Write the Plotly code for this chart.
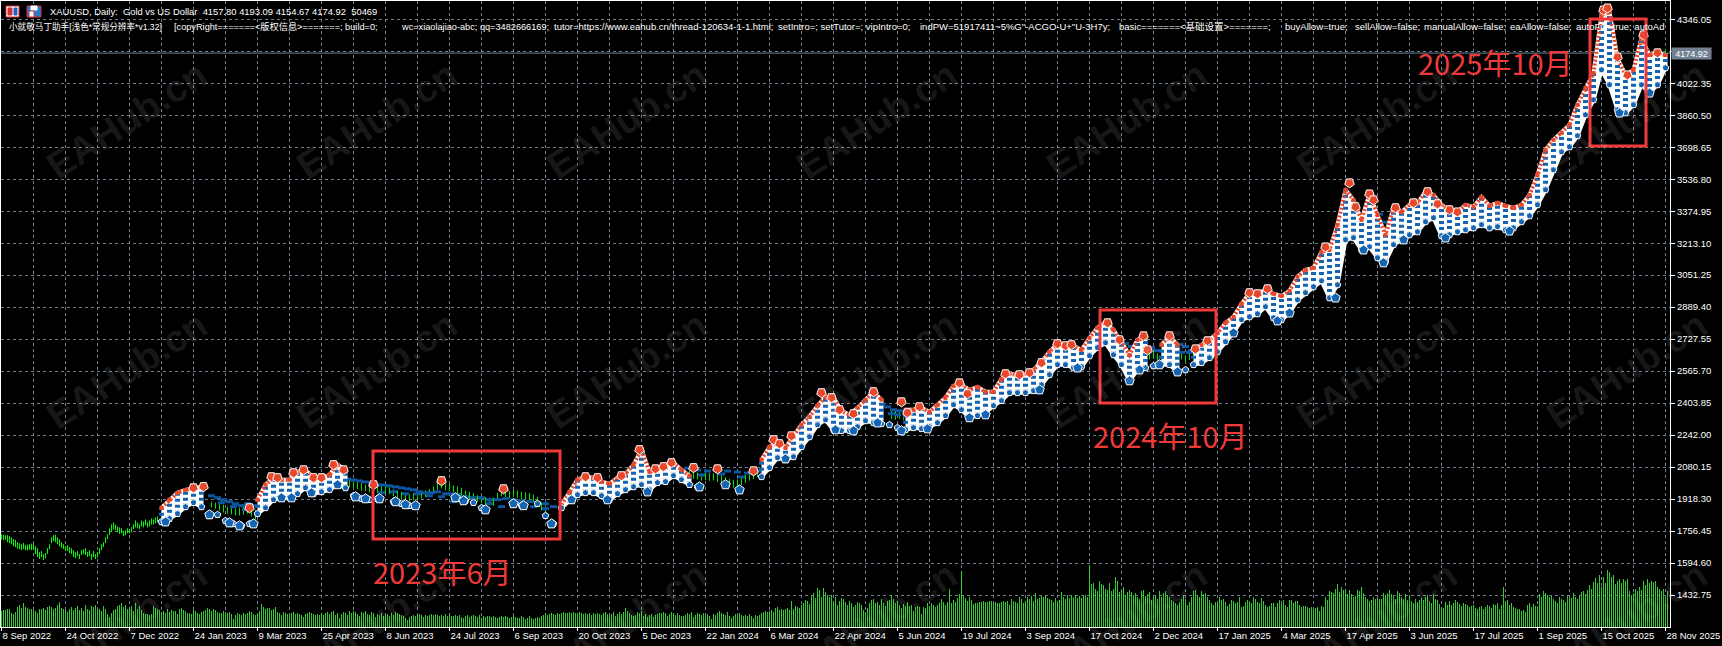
import plotly.graph_objects as go

W, H = 1722, 646
N = None

# price axis labels
price_ticks = [4346.05, 4184.20, 4022.35, 3860.50, 3698.65, 3536.80, 3374.95, 3213.10, 3051.25, 2889.40,
               2727.55, 2565.70, 2403.85, 2242.00, 2080.15, 1918.30, 1756.45, 1594.60, 1432.75]
last_price = 4174.92

# date labels, one every 32 daily bars
date_labels = ['8 Sep 2022', '24 Oct 2022', '7 Dec 2022', '24 Jan 2023', '9 Mar 2023', '25 Apr 2023', '8 Jun 2023',
               '24 Jul 2023', '6 Sep 2023', '20 Oct 2023', '5 Dec 2023', '22 Jan 2024', '6 Mar 2024', '22 Apr 2024',
               '5 Jun 2024', '19 Jul 2024', '3 Sep 2024', '17 Oct 2024', '2 Dec 2024', '17 Jan 2025', '4 Mar 2025',
               '17 Apr 2025', '3 Jun 2025', '17 Jul 2025', '1 Sep 2025', '15 Oct 2025', '28 Nov 2025']

# plain green bars before the EA starts trading
early_high = [1740, 1738, 1735, 1736, 1730, 1725, 1715, 1712, 1700, 1695, 1690, 1697, 1685, 1688, 1690, 1693, 1695, 1680,
              1670, 1650, 1655, 1640, 1645, 1670, 1690, 1725, 1735, 1738, 1725, 1715, 1700, 1690, 1680, 1685, 1675, 1670,
              1660, 1650, 1655, 1640, 1660, 1665, 1670, 1650, 1660, 1640, 1655, 1640, 1650, 1670, 1690, 1700, 1725, 1740,
              1770, 1790, 1800, 1790, 1780, 1775, 1770, 1755, 1760, 1770, 1765, 1775, 1790, 1810, 1800, 1790, 1810, 1805,
              1815, 1800, 1810, 1820, 1815, 1825, 1830]
early_low = [1715, 1710, 1712, 1700, 1695, 1690, 1680, 1675, 1668, 1665, 1660, 1665, 1660, 1658, 1662, 1660, 1662, 1640,
             1625, 1615, 1625, 1610, 1618, 1640, 1665, 1695, 1705, 1700, 1690, 1680, 1672, 1665, 1655, 1655, 1645, 1640,
             1625, 1620, 1630, 1615, 1635, 1640, 1635, 1625, 1630, 1610, 1625, 1615, 1622, 1640, 1660, 1675, 1695, 1715,
             1735, 1755, 1765, 1760, 1750, 1742, 1745, 1730, 1735, 1745, 1745, 1750, 1765, 1775, 1770, 1765, 1780, 1775,
             1785, 1775, 1780, 1790, 1790, 1795, 1800]

# green bars that show between the trade marks
side_bars = (list(range(105, 129, 2)) + list(range(172, 274, 2)) + list(range(338, 380, 2))
             + list(range(445, 453, 2)) + list(range(572, 610, 2)) + [694, 696, 832])
side_high = [1905, 1900, 1895, 1890, 1880, 1875, 1870, 1875, 1880, 1885, 1870, 1865,
             2020, 2015, 2005, 2003, 2000, 1992, 1990, 1990, 1985, 1985, 1983, 1978, 1968, 1962, 1955, 1948, 1942, 1948,
             1955, 1955, 1962, 1970, 1982, 2005, 2008, 1998, 1995, 1988, 1982, 1975, 1962, 1955, 1948, 1938, 1935, 1928,
             1925, 1925, 1950, 1968, 1962, 1960, 1965, 1962, 1955, 1952, 1950, 1942, 1930, 1900, 1870,
             2070, 2063, 2060, 2063, 2060, 2052, 2050, 2052, 2050, 2048, 2045, 2038, 2030, 2020, 2015, 2018, 2030, 2040,
             2050, 2058, 2070,
             2370, 2365, 2360, 2350,
             2670, 2660, 2665, 2655, 2660, 2670, 2658, 2650, 2665, 2660, 2645, 2655, 2668, 2650, 2660, 2670, 2655, 2660, 2665,
             3244, 3240, 4193]
side_low = [1875, 1870, 1860, 1850, 1845, 1840, 1835, 1835, 1840, 1845, 1830, 1815,
            1985, 1978, 1975, 1968, 1960, 1958, 1952, 1955, 1950, 1945, 1948, 1942, 1932, 1925, 1918, 1910, 1908, 1912,
            1918, 1920, 1928, 1932, 1948, 1965, 1972, 1962, 1958, 1952, 1948, 1935, 1928, 1918, 1912, 1902, 1898, 1888,
            1888, 1885, 1912, 1932, 1928, 1922, 1928, 1925, 1918, 1915, 1912, 1905, 1890, 1860, 1832,
            2030, 2025, 2022, 2025, 2020, 2018, 2012, 2015, 2010, 2012, 2005, 2000, 1990, 1982, 1975, 1982, 1990, 2000,
            2012, 2020, 2030,
            2325, 2320, 2325, 2318,
            2630, 2625, 2628, 2620, 2630, 2635, 2625, 2618, 2630, 2625, 2610, 2622, 2630, 2618, 2625, 2635, 2620, 2628, 2630,
            3204, 3200, 4154]

# upper and lower edge of the trade marks, one reading every 4 bars from bar 80
band_bars = list(range(80, 834, 4))
band_top = [1874, 1915, 1950, 1965, 1975, 1981, N, N, N, N, N, N, 1915, 1991, 2026, 2016, 2016, 2056, 2066, 2026, 2026, 2041,
            2092, 2066, N, N, N, N, N, N, N, N, N, N, N, N, N, N, N, N, N, N, N, N, N, N, N, N, N, N, 1889, 1955, 2016, 2031,
            2026, 2006, 1996, 2026, 2046, 2092, 2168, 2056, 2071, 2082, 2102, 2066, 2036, N, N, N, N, N, N, N, N,
            2117, 2183, 2203, 2178, 2238, 2294, 2335, 2390, 2436, 2431, 2365, 2345, 2380, 2421, 2461, 2421, N, N, 2370, 2370,
            2380, 2360, 2395, 2431, 2491, 2496, 2471, 2486, 2461, 2461, 2527, 2552, 2547, 2552, 2572, 2613, 2663, 2704, 2694,
            2694, 2673, 2734, 2785, 2815, 2775, 2714, 2648, 2724, 2734, N, 2699, 2744, 2699, N, 2673, 2699, 2724, 2759, 2810,
            2840, 2906, 2962, 2957, 2977, 2957, 2946, 2972, 3043, 3078, 3088, 3169, 3179, 3306, 3483, 3432, 3331, 3462, 3356,
            3255, 3392, 3371, 3407, 3417, 3473, 3457, 3407, 3382, 3371, 3407, 3397, 3447, 3402, 3417, 3402, 3392, 3407, 3457,
            3559, 3685, 3736, 3771, 3812, 3913, 3999, 4074, 4368, 4383, 4150, 4064, 4090, 4251, 4165, 4176, 4165]
band_bot = [1803, 1819, 1844, 1879, 1900, 1879, 1834, 1839, 1808, 1793, 1783, 1793, 1844, 1874, 1915, 1925, 1925, 1945, 1975,
            1945, 1955, 1965, 1991, 1975, 1935, 1920, 1915, 1920, N, 1905, 1895, 1885, N, N, N, N, N, 1920, 1910, 1900, 1874,
            N, N, N, 1895, 1885, N, 1895, 1834, 1793, 1874, 1910, 1940, 1950, 1950, 1935, 1915, 1945, 1965, 1980, 1991, 1965,
            2001, 2006, 2036, 2016, 1991, 1980, N, N, N, N, N, N, N, 2031, 2077, 2127, 2117, 2132, 2183, 2233, 2294, 2319, 2269,
            2264, 2264, 2284, 2314, 2304, 2299, 2294, 2279, 2269, 2279, 2274, 2284, 2304, 2340, 2395, 2370, 2330, 2340, 2355,
            2390, 2416, 2456, 2456, 2456, 2466, 2496, 2547, 2598, 2598, 2582, 2587, 2643, 2684, 2709, 2648, 2598, 2517, 2572,
            2582, 2592, 2598, 2598, 2562, 2572, 2598, 2608, 2633, 2663, 2714, 2759, 2825, 2840, 2855, 2891, 2835, 2825, 2860,
            2926, 2962, 2992, 3022, 2936, 3002, 3230, 3240, 3179, 3194, 3139, 3119, 3205, 3230, 3255, 3270, 3321, 3341, 3250,
            3255, 3270, 3280, 3290, 3306, 3290, 3296, 3280, 3290, 3321, 3351, 3407, 3483, 3584, 3675, 3700, 3756, 3862, 3938,
            4090, 4014, 3887, 3872, 3913, 4014, 3973, 4014, 4100]

# big buy arrows under the lows
buy_bars = [82, 104, 114, 119, 126, 140, 145, 155, 168, 177, 182, 189, 197, 202, 207, 227, 231, 242, 256, 261, 275, 285, 303,
            323, 349, 362, 369, 392, 417, 426, 438, 450, 463, 484, 492, 519, 538, 564, 569, 579, 588, 616, 638, 644, 667, 681,
            691, 701, 722, 754, 809, 824]
buy_price = [1803, 1839, 1798, 1783, 1793, 1925, 1925, 1950, 1991, 1930, 1920, 1920, 1905, 1890, 1885, 1925, 1910, 1864, 1895,
             1885, 1793, 1915, 1915, 1955, 1980, 1991, 1965, 2122, 2269, 2264, 2304, 2264, 2274, 2330, 2345, 2471, 2582, 2517,
             2572, 2598, 2562, 2759, 2820, 2860, 2936, 3179, 3114, 3230, 3240, 3275, 3872, 3973]

# big sell arrows over the highs
sell_bars = [96, 101, 124, 135, 138, 146, 151, 156, 160, 166, 171, 186, 220, 251, 292, 298, 310, 319, 327, 331, 335, 346, 358,
             376, 386, 389, 395, 410, 415, 419, 426, 436, 450, 453, 459, 479, 483, 502, 509, 514, 520, 528, 532, 535, 553, 559,
             571, 573, 584, 597, 603, 624, 628, 633, 662, 674, 677, 684, 686, 697, 706, 713, 718, 724, 728, 801, 803, 808, 813,
             821, 828]
sell_price = [1975, 1981, 1874, 2031, 2026, 2051, 2066, 2026, 2026, 2092, 2066, 1991, 2011, 1970, 2031, 2026, 2036, 2168, 2071,
              2082, 2102, 2077, 2071, 2061, 2218, 2198, 2238, 2456, 2431, 2370, 2350, 2461, 2410, 2355, 2385, 2506, 2451, 2552,
              2547, 2557, 2608, 2704, 2694, 2699, 2810, 2724, 2744, 2673, 2744, 2678, 2719, 2962, 2957, 2982, 3194, 3518, 3397,
              3462, 3432, 3392, 3417, 3473, 3412, 3382, 3371, 4393, 4403, 4155, 4064, 4267, 4176]

# dark blue order levels in the sideways stretches
level_bars = [105, 108, 111, 114, 117, 120, 123, 126, 129, 110, 116, 122,
              173, 176, 179, 182, 185, 188, 191, 194, 197, 200, 203, 206, 209, 212, 215, 218, 222, 225, 228, 232, 236, 240,
              244, 248, 252, 256, 260, 264, 268, 272, 190, 196, 202, 208, 214, 220, 226, 244, 250, 258, 266, 272, 276,
              338, 343, 348, 353, 358, 363, 368, 373, 378, 340, 350, 360, 370,
              440, 443, 446, 449, 445, 448,
              562, 565, 567, 575, 578, 589, 592, 595, 590, 594,
              689, 691, 692, 690]
level_price = [1935, 1925, 1915, 1905, 1895, 1885, 1895, 1885, 1880, 1900, 1880, 1865,
               2020, 2015, 2010, 2005, 2000, 1990, 1990, 1985, 1980, 1975, 1970, 1965, 1955, 1950, 1950, 1955, 1945, 1945, 1940,
               1930, 1925, 1925, 1915, 1915, 1920, 1915, 1910, 1905, 1900, 1895, 1950, 1955, 1945, 1945, 1935, 1930, 1905, 1895,
               1880, 1900, 1880, 1870, 1880,
               2070, 2075, 2065, 2060, 2070, 2060, 2055, 2050, 2060, 2045, 2040, 2045, 2030,
               2400, 2385, 2370, 2365, 2350, 2345,
               2705, 2690, 2680, 2685, 2670, 2700, 2690, 2670, 2660, 2660,
               3360, 3320, 3280, 3250]

# tick volume in thousands, 32 bars per line
volumes = [16, 17, 17, 18, 18, 14, 13, 15, 20, 22, 19, 24, 20, 19, 18, 18, 17, 16, 14, 18, 18, 19, 17, 20, 21, 20, 18, 19, 22, 25, 19, 18,
           17, 15, 18, 20, 17, 19, 21, 17, 19, 16, 22, 18, 17, 21, 20, 22, 19, 18, 16, 21, 18, 13, 10, 14, 17, 18, 21, 22, 24, 20, 22, 18,
           19, 21, 16, 24, 18, 21, 17, 14, 13, 13, 12, 13, 21, 19, 18, 17, 15, 16, 14, 18, 15, 17, 16, 16, 13, 18, 19, 17, 16, 14, 14, 13,
           17, 16, 14, 13, 15, 16, 17, 19, 18, 16, 18, 17, 15, 14, 14, 16, 15, 14, 15, 13, 8, 12, 14, 13, 12, 14, 13, 14, 16, 15, 13, 12,
           13, 16, 23, 20, 18, 19, 19, 17, 18, 20, 15, 14, 12, 15, 14, 13, 12, 14, 15, 13, 14, 13, 12, 10, 13, 14, 15, 14, 13, 12, 13, 12,
           14, 12, 14, 15, 13, 15, 16, 12, 14, 9, 13, 15, 14, 12, 16, 14, 16, 15, 13, 11, 15, 14, 16, 13, 12, 15, 14, 10, 13, 12, 14, 11,
           12, 13, 11, 14, 12, 15, 14, 13, 12, 11, 9, 7, 10, 11, 12, 11, 12, 13, 12, 10, 12, 11, 12, 13, 12, 13, 12, 11, 12, 11, 13, 11,
           12, 11, 11, 12, 11, 12, 10, 9, 11, 12, 10, 11, 12, 11, 10, 12, 9, 11, 10, 11, 11, 10, 11, 10, 9, 10, 11, 10, 11, 10, 9, 10,
           11, 10, 9, 9, 11, 10, 8, 9, 11, 9, 8, 9, 10, 9, 11, 12, 14, 12, 13, 14, 13, 12, 14, 13, 14, 15, 14, 14, 15, 14, 15, 14,
           14, 15, 14, 13, 14, 13, 14, 12, 14, 13, 14, 13, 12, 14, 15, 13, 12, 13, 15, 11, 13, 15, 13, 15, 19, 16, 14, 12, 11, 12, 15, 14,
           16, 11, 13, 10, 12, 13, 10, 12, 13, 14, 14, 15, 14, 11, 13, 15, 14, 12, 14, 12, 11, 11, 12, 14, 13, 15, 10, 12, 14, 13, 12, 14,
           12, 13, 11, 8, 13, 12, 14, 16, 14, 13, 12, 15, 11, 9, 11, 13, 12, 14, 12, 11, 12, 11, 13, 11, 9, 12, 11, 12, 14, 15, 16, 15,
           16, 17, 15, 19, 20, 17, 18, 17, 18, 19, 17, 26, 18, 21, 20, 19, 22, 24, 27, 26, 23, 31, 34, 29, 39, 37, 30, 39, 35, 32, 30, 32,
           26, 30, 22, 26, 29, 28, 25, 22, 26, 24, 20, 22, 25, 24, 22, 17, 15, 19, 24, 27, 28, 24, 25, 22, 28, 24, 21, 26, 27, 32, 28, 24,
           26, 22, 19, 23, 21, 25, 21, 22, 16, 20, 21, 20, 13, 20, 19, 24, 21, 24, 22, 20, 22, 24, 28, 25, 22, 25, 38, 24, 27, 25, 29, 33,
           56, 32, 29, 26, 30, 27, 23, 24, 24, 25, 25, 26, 25, 25, 26, 26, 25, 25, 24, 24, 25, 26, 25, 26, 22, 28, 26, 25, 24, 30, 28, 24,
           26, 30, 28, 31, 26, 34, 28, 29, 31, 30, 32, 29, 28, 27, 25, 29, 26, 27, 35, 30, 28, 32, 29, 31, 30, 32, 29, 31, 29, 31, 32, 30,
           62, 43, 44, 38, 36, 46, 43, 42, 38, 37, 44, 36, 38, 50, 46, 35, 36, 40, 32, 35, 37, 35, 32, 34, 30, 28, 36, 37, 31, 33, 35, 27,
           30, 32, 28, 36, 30, 34, 36, 32, 30, 27, 26, 24, 22, 25, 28, 31, 28, 22, 25, 30, 36, 37, 32, 30, 36, 33, 34, 30, 27, 24, 22, 25,
           25, 30, 27, 28, 25, 21, 23, 27, 26, 24, 25, 30, 20, 21, 25, 27, 25, 24, 30, 28, 25, 24, 29, 26, 22, 20, 21, 24, 24, 20, 24, 27,
           23, 27, 22, 20, 27, 27, 24, 26, 26, 22, 20, 21, 21, 20, 19, 20, 18, 19, 20, 16, 21, 20, 30, 27, 36, 35, 34, 38, 43, 35, 40, 37,
           36, 33, 37, 33, 30, 31, 37, 36, 40, 34, 30, 28, 26, 27, 30, 28, 29, 28, 28, 34, 32, 34, 37, 33, 31, 28, 36, 34, 30, 28, 33, 27,
           32, 26, 24, 28, 25, 27, 29, 27, 30, 32, 26, 24, 33, 28, 27, 23, 20, 19, 25, 22, 26, 22, 24, 27, 25, 23, 21, 24, 23, 22, 20, 21,
           22, 19, 18, 20, 21, 18, 20, 22, 21, 19, 23, 22, 24, 18, 22, 40, 26, 27, 22, 24, 20, 19, 18, 18, 16, 17, 15, 22, 24, 20, 23, 21,
           21, 33, 30, 36, 34, 32, 30, 32, 28, 26, 24, 30, 28, 27, 25, 31, 30, 29, 34, 30, 28, 31, 35, 36, 33, 37, 42, 38, 45, 49, 44, 52,
           40, 50, 44, 57, 55, 50, 52, 43, 46, 48, 44, 48, 46, 48, 36, 32, 34, 38, 36, 40, 37, 46, 42, 48, 44, 46, 45, 46, 40, 38, 36, 38,
           30, 36]

header = 'XAUUSD, Daily:  Gold vs US Dollar  4157.80 4193.09 4154.67 4174.92  50469'
# the comment line is anchored in pieces so it does not drift: start, text, font size
comment_parts = [(7, '小就敬马丁助手[浅色*常规分辨率*v1.32]', 8.6),
                 (172, '[copyRight=======<版权信息>=======; build=0;', 9.2),
                 (399, 'wc=xiaolajiao-abc; qq=3482666169;', 9.2),
                 (552, 'tutor=https://www.eahub.cn/thread-120634-1-1.html;', 9.5),
                 (776, 'setIntro=; setTutor=; vipIntro=0;', 9.5),
                 (918, 'indPW=51917411~5%G"-ACGO-U+"U-3H7y;', 9.5),
                 (1117, 'basic=======<基础设置>=======;', 9.5),
                 (1283, 'buyAllow=true;', 9.5),
                 (1353, 'sellAllow=false;', 9.5),
                 (1422, 'manualAllow=false;', 9.5),
                 (1508, 'eaAllow=false;', 9.5),
                 (1574, 'autoFilt=true; autoAd', 9.5)]

# red notes drawn over the screenshot: x0, y0, x1, y1 and label centre
notes = [('2023年6月', 373, 451, 560, 539, 442, 571),
         ('2024年10月', 1100, 310, 1216, 403, 1170, 435),
         ('2025年10月', 1590, 19, 1646, 146, 1495, 62)]

watermark_x = [127, 377, 627, 877, 1127, 1377, 1627]
watermark_y = [120, 370, 620]

PLOT_L, PLOT_R, PLOT_T, PLOT_B = 1, 1670, 1, 627
GRID = '#708090'
BLUE = '#1464b4'
ORANGE = '#e8472a'
RED = '#f03a3a'
FONT = 'Liberation Sans, Noto Sans CJK SC'


def xp(px):
    return (px - PLOT_L) / (PLOT_R - PLOT_L)


def yp(py):
    return 1 - (py - PLOT_T) / (PLOT_B - PLOT_T)


def segments(bars, lows, highs):
    xs, ys = [], []
    for b, lo, hi in zip(bars, lows, highs):
        if lo is None or hi is None:
            continue
        xs += [b, b, None]
        ys += [lo, hi, None]
    return xs, ys


fig = go.Figure()

# volume sits on its own hidden axis, anchored to the bottom of the chart
x, y = segments(range(len(volumes)), [0] * len(volumes), volumes)
fig.add_trace(go.Scatter(x=x, y=y, mode='lines', line=dict(color='#32cd32', width=1), yaxis='y2'))

# green price bars
x, y = segments(range(len(early_high)), early_low, early_high)
fig.add_trace(go.Scatter(x=x, y=y, mode='lines', line=dict(color='#00ff00', width=1)))
x, y = segments(side_bars, side_low, side_high)
fig.add_trace(go.Scatter(x=x, y=y, mode='lines', line=dict(color='#00e000', width=1)))

# dark order levels
fig.add_trace(go.Scatter(x=level_bars, y=level_price, mode='markers',
                         marker=dict(symbol='line-ew', size=5, line=dict(color='#0c56a0', width=3))))

# white body of the band of trade marks, one polygon per unbroken run
run_x, run_top, run_bot = [], [], []
for b, t, l in list(zip(band_bars, band_top, band_bot)) + [(None, None, None)]:
    if t is not None and l is not None:
        run_x.append(b)
        run_top.append(t)
        run_bot.append(l)
    elif run_x:
        fig.add_trace(go.Scatter(x=run_x + run_x[::-1], y=run_top + run_bot[::-1], mode='lines', fill='toself',
                                 fillcolor='white', line=dict(color='white', width=4)))
        run_x, run_top, run_bot = [], [], []

# blue speckle inside the band
x, y = segments(band_bars, band_bot, band_top)
fig.add_trace(go.Scatter(x=x, y=y, mode='lines', line=dict(color=BLUE, width=5, dash='3px,3px')))

# orange speckle along the upper edge
fig.add_trace(go.Scatter(x=band_bars, y=band_top, mode='lines+markers',
                         line=dict(color=ORANGE, width=4, dash='2px,2px'),
                         marker=dict(symbol='square', size=4, color=ORANGE)))

# chain of small buy marks along the lower edge
fig.add_trace(go.Scatter(x=band_bars, y=band_bot, mode='markers',
                         marker=dict(symbol='pentagon', size=7, color=BLUE, line=dict(color='white', width=1))))

fig.add_trace(go.Scatter(x=buy_bars, y=buy_price, mode='markers',
                         marker=dict(symbol='pentagon', size=10, color=BLUE, line=dict(color='white', width=1))))
fig.add_trace(go.Scatter(x=sell_bars, y=sell_price, mode='markers',
                         marker=dict(symbol='pentagon', angle=180, size=10, color=ORANGE, line=dict(color='white', width=1))))

annotations = []
for wy in watermark_y:
    for wx in watermark_x:
        annotations.append(dict(text='<b>EAHub.cn</b>', xref='paper', yref='paper', x=xp(wx), y=yp(wy), showarrow=False,
                                textangle=-33, font=dict(family='Liberation Sans', size=38, color='rgba(255,255,255,0.10)'),
                                xanchor='center', yanchor='middle'))
annotations.append(dict(text=header, xref='paper', yref='paper', x=xp(48), y=yp(12), showarrow=False, xanchor='left',
                        yanchor='middle', font=dict(family=FONT, size=9.4, color='white')))
for cx, part, size in comment_parts:
    annotations.append(dict(text=part, xref='paper', yref='paper', x=xp(cx), y=yp(27), showarrow=False, xanchor='left',
                            yanchor='middle', font=dict(family=FONT, size=size, color='white')))
annotations.append(dict(text=f'{last_price:.2f}', xref='paper', yref='y', x=xp(1691.5), y=last_price, showarrow=False,
                        xanchor='center', yanchor='middle', bgcolor=GRID, width=39, height=11, borderpad=0,
                        font=dict(family=FONT, size=9, color='white')))

shapes = [dict(type='line', xref='paper', yref='y', x0=0, x1=1, y0=last_price, y1=last_price,
               line=dict(color=GRID, width=1), layer='below')]

# window icons in the header
icon_parts = [(6, 6, 19, 17, 'white', '#d03030'), (8, 8, 12, 15, '#d03030', '#d03030'), (14, 8, 17, 15, '#2060c0', '#2060c0'),
              (27, 6, 41, 17, '#2a7ad0', '#d03030'), (31, 6, 37, 10, 'white', 'white'), (29, 11, 34, 17, 'white', '#d03030')]
for x0, y0, x1, y1, fill, edge in icon_parts:
    shapes.append(dict(type='rect', xref='paper', yref='paper', x0=xp(x0), x1=xp(x1), y0=yp(y0), y1=yp(y1),
                       fillcolor=fill, line=dict(color=edge, width=1), layer='above'))

for label, x0, y0, x1, y1, lx, ly in notes:
    shapes.append(dict(type='rect', xref='paper', yref='paper', x0=xp(x0), x1=xp(x1), y0=yp(y0), y1=yp(y1),
                       line=dict(color=RED, width=3), layer='above'))
    annotations.append(dict(text=label, xref='paper', yref='paper', x=xp(lx), y=yp(ly), showarrow=False,
                            font=dict(family='Noto Sans CJK SC', size=29, color=RED), xanchor='center', yanchor='middle'))

fig.update_layout(
    width=W, height=H, autosize=False,
    margin=dict(l=PLOT_L, r=W - PLOT_R, t=PLOT_T, b=H - PLOT_B, pad=0),
    paper_bgcolor='black', plot_bgcolor='black', showlegend=False, hovermode=False,
    xaxis=dict(range=[-0.25, 834.25], tickmode='array', tickvals=[32 * i for i in range(len(date_labels))],
               ticktext=date_labels, ticklabelposition='outside right', ticks='outside', ticklen=3, tickcolor='white',
               tickfont=dict(family=FONT, size=9.5, color='white'), showline=True, linecolor='white', mirror=True,
               showgrid=True, gridcolor=GRID, griddash='3px,3px', gridwidth=1, zeroline=False,
               minor=dict(tickmode='array', tickvals=[16 + 32 * i for i in range(len(date_labels) - 1)],
                          showgrid=True, gridcolor=GRID, griddash='3px,3px', gridwidth=1, ticks='')),
    yaxis=dict(range=[1432.75 - 32 * 5.058, 4346.05 + 18.3 * 5.058], side='right', tickmode='array', tickvals=price_ticks,
               ticktext=[f'{p:.2f}' for p in price_ticks], ticks='outside', ticklen=4, tickcolor='white',
               tickfont=dict(family=FONT, size=9.5, color='white'), showline=True, linecolor='white', mirror=True,
               showgrid=True, gridcolor=GRID, griddash='3px,3px', gridwidth=1, zeroline=False),
    yaxis2=dict(overlaying='y', range=[0, PLOT_B - PLOT_T], visible=False),
    annotations=annotations, shapes=shapes,
)

fig.write_html("out.html", config=dict(displayModeBar=False),
               post_script="document.body.style.margin='0';document.body.style.overflow='hidden';")
